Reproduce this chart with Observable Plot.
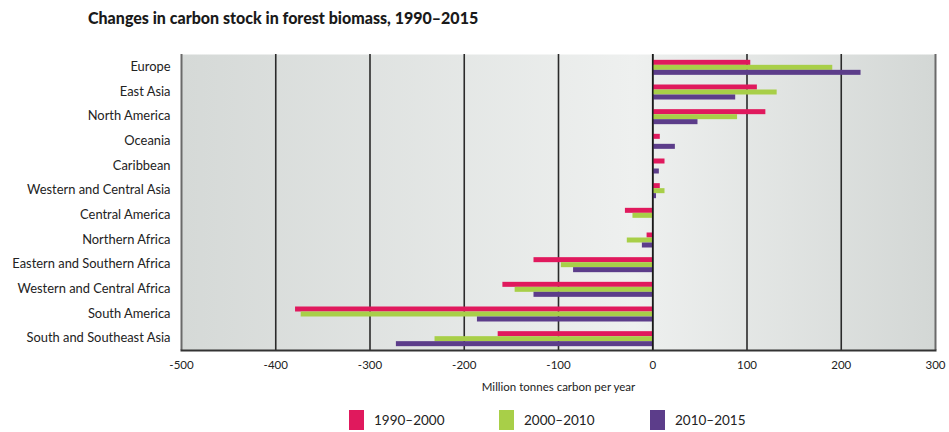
<!DOCTYPE html>
<html>
<head>
<meta charset="utf-8">
<script src="https://cdn.jsdelivr.net/npm/d3@7"></script>
<script src="https://cdn.jsdelivr.net/npm/@observablehq/plot@0.6"></script>
<style>
  body { margin: 0; background: #fff; font-family: Lato, "Noto Sans", sans-serif; color: #222; }
  #title { height: 40px; box-sizing: border-box; padding: 8px 0 0 88px; font-size: 16px; font-weight: 900; color: #1a1a1a; }
  #chart svg { display: block; }
  #legend { position: relative; height: 32px; }
  .item { position: absolute; top: 10px; display: flex; align-items: center; font-size: 13.5px; color: #222; }
  .sw { width: 15px; height: 20px; margin-right: 10px; }
</style>
</head>
<body>
<div id="title">Changes in carbon stock in forest biomass, 1990–2015</div>
<div id="chart"></div>
<div id="legend"></div>
<script>
const regions = ["Europe", "East Asia", "North America", "Oceania", "Caribbean", "Western and Central Asia", "Central America", "Northern Africa", "Eastern and Southern Africa", "Western and Central Africa", "South America", "South and Southeast Asia"];
const periods = ["1990–2000", "2000–2010", "2010–2015"];
const v1990 = [104, 111, 120, 8, 13, 8, -29, -6, -126, -159, -379, -164];
const v2000 = [191, 132, 90, 0, 0, 13, -21, -27, -97, -146, -373, -231];
const v2010 = [221, 88, 48, 24, 7, 4, 0, -11, -84, -126, -186, -272];
const xTicks = [-500, -400, -300, -200, -100, 0, 100, 200, 300];
const gridTicks = [-400, -300, -200, -100, 0, 100, 200];
const colors = ["#e0195d", "#a8cf48", "#5c3d8a"];

const series = [v1990, v2000, v2010];
const data = [];
periods.forEach((p, i) => regions.forEach((r, j) => data.push({region: r, period: p, value: series[i][j], idx: i})));

const W = 949, H = 360, mT = 14, mB = 50, mL = 181, mR = 14;
const step = (H - mT - mB) / regions.length;
const barH = 5;
const pad = (step - 3 * barH) / 2 + 1;

const plot = Plot.plot({
  width: W, height: H,
  marginTop: mT, marginBottom: mB, marginLeft: mL, marginRight: mR,
  style: {fontFamily: "Lato, 'Noto Sans', sans-serif", fontSize: "12px", color: "#222", background: "transparent"},
  x: {domain: [-500, 300], ticks: xTicks, tickSize: 0, tickPadding: 10, label: "Million tonnes carbon per year", labelAnchor: "center", labelOffset: 40, labelArrow: "none", tickFormat: d => String(d)},
  y: {domain: regions, padding: 0, round: false, tickSize: 0, tickPadding: 11, label: null},
  marks: [
    Plot.frame({fill: "url(#bggrad)", stroke: "none"}),
    Plot.ruleX(gridTicks, {stroke: "#2a2a2a", strokeWidth: 1.6}),
    Plot.ruleX([-500, 300], {stroke: "#6a6a6a", strokeWidth: 2}),
    ...periods.map((p, i) => Plot.barX(data.filter(d => d.idx === i), {
      x: "value", y: "region", fill: colors[i],
      insetTop: pad + i * barH, insetBottom: step - pad - (i + 1) * barH
    })),
    Plot.ruleX([0], {stroke: "#1a1a1a", strokeWidth: 1.6}),
    Plot.frame({anchor: "bottom", stroke: "#333", strokeWidth: 2})
  ]
});

const svg = d3.select(plot);
const defs = svg.insert("defs", ":first-child");
const g = defs.append("linearGradient").attr("id", "bggrad").attr("x1", "0").attr("x2", "1").attr("y1", "0").attr("y2", "0");
g.append("stop").attr("offset", "0").attr("stop-color", "#d5d9d7");
g.append("stop").attr("offset", "0.6").attr("stop-color", "#eef0ef");
g.append("stop").attr("offset", "1").attr("stop-color", "#d3d7d5");
svg.selectAll("g[aria-label='x-axis tick label'] text, g[aria-label='x-axis label'] text").style("font-size", "11.5px");
svg.selectAll("g[aria-label='y-axis tick label'] text").style("font-size", "12.9px");
document.getElementById("chart").appendChild(plot);

const legend = document.getElementById("legend");
const lefts = [349, 499, 650];
periods.forEach((p, i) => {
  const it = document.createElement("div");
  it.className = "item";
  it.style.left = lefts[i] + "px";
  it.innerHTML = `<div class="sw" style="background:${colors[i]}"></div><span>${p}</span>`;
  legend.appendChild(it);
});
</script>
</body>
</html>
